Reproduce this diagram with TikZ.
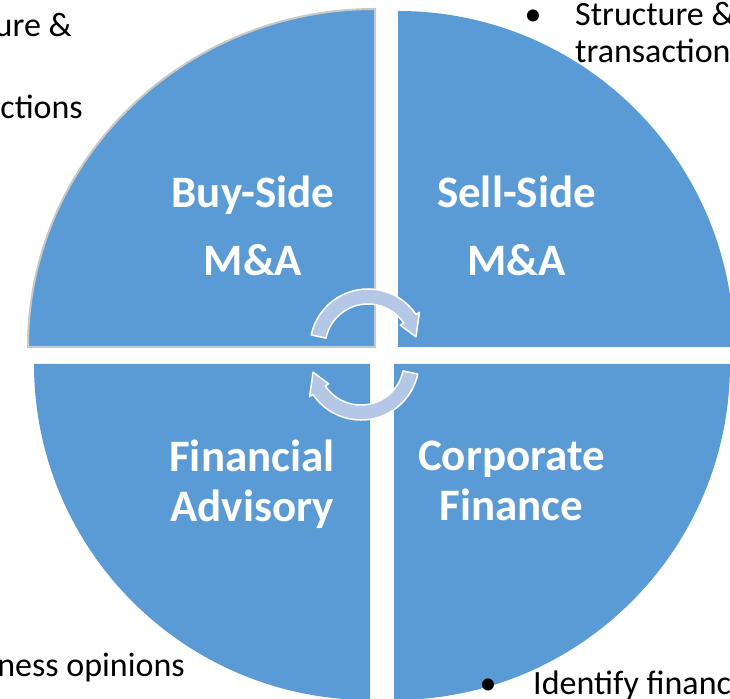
\documentclass[tikz,border=0pt]{standalone}
\usepackage{fontspec}
\setmainfont{Carlito}
\definecolor{quadblue}{HTML}{5B9BD5}
\definecolor{cycleblue}{HTML}{B4C7E7}
\definecolor{quadline}{HTML}{C8C8C8}
\tikzset{>=stealth,
  quadrant/.style={fill=quadblue},
  quadlabel/.style={text=white, font=\bfseries\fontsize{45}{68}\selectfont, align=center, inner sep=0},
  note/.style={font=\fontsize{34}{38}\selectfont, inner sep=0},
  cyclearrow/.style={fill=cycleblue, draw=white, line width=1.5pt, line join=round}}

\begin{document}
\begin{tikzpicture}[x=1pt, y=1pt]
\useasboundingbox (0,0) rectangle (730,698);
\clip (0,0) rectangle (730,698);
\draw[quadrant, draw=quadline, line width=2pt] (375,351) -- (28,351) arc[start angle=180, end angle=90, x radius=347pt, y radius=338pt] -- cycle;
\fill[quadrant] (398,351) -- (734,351) arc[start angle=0, end angle=90, radius=336pt] -- cycle;
\fill[quadrant] (370,334) -- (34,334) arc[start angle=180, end angle=270, radius=336pt] -- cycle;
\fill[quadrant] (394,334) -- (394,-2) arc[start angle=270, end angle=360, radius=336pt] -- cycle;

\foreach \cx/\cy/\turn in {368/351/0, 361/336/180}{
  \begin{scope}[shift={(\cx,\cy)}, rotate=\turn]
  \draw[cyclearrow] (168:58) arc[start angle=168, end angle=34, radius=58pt] -- (34:62) -- (12:49) -- (34:39) -- (34:43) arc[start angle=34, end angle=168, radius=43pt] -- cycle;
  \end{scope}
}

\node[quadlabel] (buy) at (253,472.5) {Buy-Side\\M\&A};
\node[quadlabel] (sell) at (516.5,472.5) {Sell-Side\\M\&A};
\node[quadlabel, font=\bfseries\fontsize{45}{50}\selectfont] (advisory) at (252,213.5) {Financial\\Advisory};
\node[quadlabel, font=\bfseries\fontsize{45}{50}\selectfont] (corporate) at (511.5,217.5) {Corporate\\Finance};

\node[note, anchor=base east] (ltop) at (72,661) {ure \&};
\node[note, anchor=base east] (lmid) at (83,579) {ctions};
\node[note, anchor=base] (rdot) at (533,672) {•};
\node[note, anchor=base west] (rtop) at (575,672) {Structure \&};
\node[note, anchor=base west] (rmid) at (575,635) {transaction};
\node[note, anchor=base east] (lbot) at (185,21) {ness opinions};
\node[note, anchor=base] (bdot) at (488,4) {•};
\node[note, anchor=base west] (rbot) at (533,4) {Identify financ};
\end{tikzpicture}
\end{document}
